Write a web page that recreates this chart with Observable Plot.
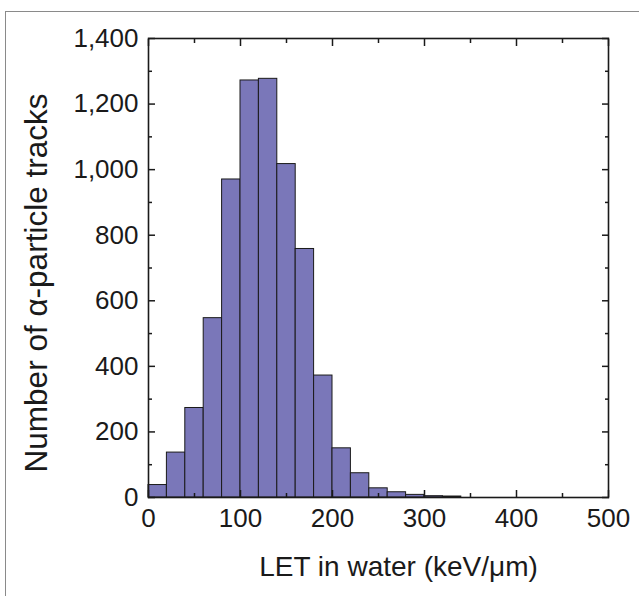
<!DOCTYPE html>
<html>
<head>
<meta charset="utf-8">
<script src="https://cdn.jsdelivr.net/npm/d3@7"></script>
<script src="https://cdn.jsdelivr.net/npm/@observablehq/plot@0.6"></script>
<style>
  html, body { margin: 0; padding: 0; background: #fff; }
  #wrap { position: relative; width: 639px; height: 596px; overflow: hidden; }
  #border { position: absolute; left: 5px; top: 11px; right: -5px; bottom: -5px;
            border-left: 1.5px solid #8a8a8a; border-top: 1.5px solid #8a8a8a; pointer-events: none; }
</style>
</head>
<body>
<div id="wrap"><div id="border"></div></div>
<script>
// LET bins (keV/µm), 20 keV/µm wide, lower edges
const binStarts = [0, 20, 40, 60, 80, 100, 120, 140, 160, 180, 200, 220, 240, 260, 280, 300, 320];
const binWidth = 20;
// Number of alpha-particle tracks per bin
const counts = [38, 137, 273, 547, 970, 1272, 1277, 1017, 758, 372, 150, 74, 28, 16, 8, 4, 3];

const xMajor = [0, 100, 200, 300, 400, 500];
const xMinor = [50, 150, 250, 350, 450];
const yMajor = [0, 200, 400, 600, 800, 1000, 1200, 1400];
const yMinor = [100, 300, 500, 700, 900, 1100, 1300];

const xLabel = "LET in water (keV/\u03BCm)";
const yLabel = "Number of \u03B1-particle tracks";

const data = binStarts.map((b, i) => ({x1: b, x2: b + binWidth, y: counts[i]}));
const ink = "#1a1a1a";

const chart = Plot.plot({
  width: 639,
  height: 596,
  marginLeft: 148,
  marginRight: 31,
  marginTop: 38,
  marginBottom: 99,
  x: {domain: [0, 500]},
  y: {domain: [0, 1400]},
  style: {fontFamily: "'Liberation Sans', Arial, Helvetica, sans-serif", color: ink, background: "transparent"},
  marks: [
    Plot.rectY(data, {x1: "x1", x2: "x2", y: "y", fill: "#7a77b9", stroke: ink, strokeWidth: 1}),
    Plot.frame({stroke: ink, strokeWidth: 1.6}),
    // inward ticks
    Plot.axisX(xMajor, {anchor: "bottom", tickSize: -7, text: null, label: null, stroke: ink, strokeWidth: 1.5}),
    Plot.axisX(xMajor, {anchor: "top", tickSize: -7, text: null, label: null, stroke: ink, strokeWidth: 1.5}),
    Plot.axisX(xMinor, {anchor: "bottom", tickSize: -4, text: null, label: null, stroke: ink, strokeWidth: 1.5}),
    Plot.axisX(xMinor, {anchor: "top", tickSize: -4, text: null, label: null, stroke: ink, strokeWidth: 1.5}),
    Plot.axisY(yMajor, {anchor: "left", tickSize: -7, text: null, label: null, stroke: ink, strokeWidth: 1.5}),
    Plot.axisY(yMajor, {anchor: "right", tickSize: -7, text: null, label: null, stroke: ink, strokeWidth: 1.5}),
    Plot.axisY(yMinor, {anchor: "left", tickSize: -4, text: null, label: null, stroke: ink, strokeWidth: 1.5}),
    Plot.axisY(yMinor, {anchor: "right", tickSize: -4, text: null, label: null, stroke: ink, strokeWidth: 1.5}),
    // tick labels
    Plot.axisX(xMajor, {anchor: "bottom", tickSize: 0, tickPadding: 11, fontSize: 26, label: null, fill: ink}),
    Plot.axisY(yMajor, {anchor: "left", tickSize: 0, tickPadding: 10, fontSize: 26, label: null, fill: ink, tickFormat: d3.format(",")}),
    // axis titles
    Plot.text([xLabel], {frameAnchor: "bottom", textAnchor: "middle", lineAnchor: "middle", dx: 20, dy: 70, fontSize: 28, fill: ink}),
    Plot.text([yLabel], {frameAnchor: "left", textAnchor: "middle", lineAnchor: "middle", dx: -112, dy: 15, rotate: -90, fontSize: 31.5, fill: ink})
  ]
});
document.getElementById("wrap").prepend(chart);
</script>
</body>
</html>
